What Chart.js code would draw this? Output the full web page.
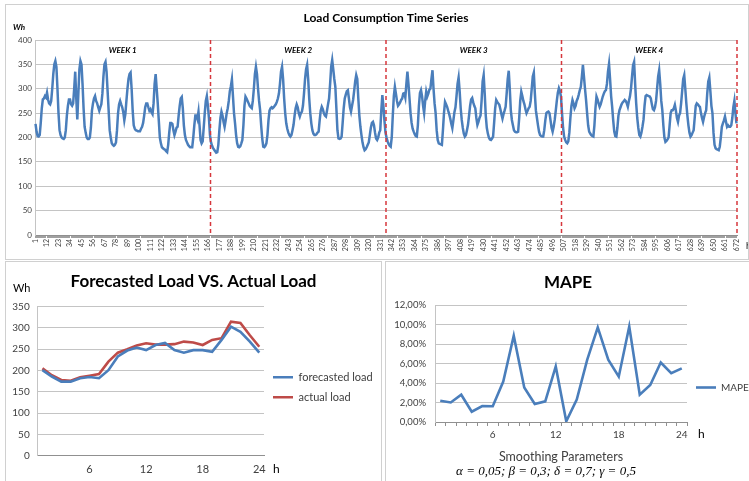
<!DOCTYPE html>
<html>
<head>
<meta charset="utf-8">
<script src="https://cdn.jsdelivr.net/npm/chart.js"></script>
<style>
body { margin: 0; background: #fff; width: 749px; height: 481px; overflow: hidden; position: relative; }
.panel { position: absolute; border: 1px solid #d0d0d0; box-sizing: border-box; }
.panel div { position: absolute; left: 0; top: 0; right: 0; bottom: 0; }
</style>
</head>
<body>
<div class="panel" style="left:5px;top:4px;width:744px;height:256px"><div><canvas id="load_series"></canvas></div></div>
<div class="panel" style="left:5px;top:261px;width:377px;height:222px"><div><canvas id="forecast_actual"></canvas></div></div>
<div class="panel" style="left:385px;top:261px;width:366px;height:222px"><div><canvas id="mape_chart"></canvas></div></div>
<script>
// hourly load, 4 weeks (Wh)
const week1 = [
    228,212,203,202,205,230,260,278,280,285,282,292,278,270,268,275,300,330,350,357,345,300,250,215,
    205,200,198,197,200,215,245,265,278,278,268,265,270,300,335,280,237,290,340,357,350,310,260,222,
    210,200,197,197,200,220,255,270,280,285,275,270,262,255,262,268,290,325,350,355,335,295,255,215,
    200,188,185,183,185,190,215,250,268,275,268,262,252,235,248,275,300,320,330,333,300,255,225,218,
    215,214,213,213,213,218,222,230,245,262,270,270,262,255,258,252,248,270,310,330,300,270,235,200,
    188,180,178,176,175,172,170,185,210,230,230,228,215,205,212,220,222,245,265,280,283,260,225,205,
    195,190,185,182,180,180,180,200,225,245,245,238,253,225,195,188,192,220,250,275,285,265,240,205
];
const week2 = [
    190,183,178,175,172,169,170,185,215,240,253,245,232,222,235,250,260,275,295,305,319,285,250,229,
    205,188,181,180,182,188,195,225,265,284,280,275,270,265,262,260,275,300,330,345,330,300,275,256,
    225,198,181,180,183,188,205,235,255,260,262,260,262,265,268,273,280,290,310,335,345,320,280,250,
    229,218,210,205,202,205,215,226,245,260,268,262,250,243,250,253,265,290,320,340,349,320,280,250,
    229,215,208,205,205,207,210,212,235,255,263,258,250,245,243,255,268,280,310,345,359,340,320,304,
    260,215,198,197,198,202,230,260,280,288,295,297,280,262,253,265,277,295,315,328,320,280,245,222,
    205,190,180,174,176,180,185,190,205,220,230,232,225,210,198,195,200,210,215,255,287,265,235,210
];
const week3 = [
    200,192,187,183,181,200,245,285,304,290,275,265,268,272,277,280,290,291,282,310,335,310,280,250,
    230,218,212,207,203,202,225,265,291,297,285,265,250,275,294,284,290,298,300,320,338,300,270,250,
    215,195,188,187,186,185,215,250,273,268,263,255,248,239,228,219,235,252,262,285,310,323,295,260,
    236,220,208,202,205,215,226,245,265,278,281,272,265,260,240,226,232,240,245,275,315,328,290,245,
    220,208,200,196,195,198,202,230,260,277,273,270,267,258,248,239,248,255,263,290,320,337,300,255,
    236,225,215,212,211,211,212,240,275,294,285,275,268,258,250,255,260,263,275,300,325,333,290,255,
    240,225,212,205,203,202,202,215,235,250,252,253,250,235,220,212,222,236,255,275,292,301,295,284
];
const week4 = [
    250,220,202,195,190,188,192,210,240,265,277,270,260,265,275,280,288,297,304,325,349,325,300,277,
    250,225,212,208,205,203,202,225,260,284,278,270,263,268,276,284,290,295,297,310,335,351,320,285,
    263,235,212,203,202,220,245,256,262,268,272,274,277,275,270,263,275,284,300,325,348,355,310,270,
    240,220,205,202,210,222,236,265,285,287,286,285,284,280,268,258,256,262,275,300,325,338,310,275,
    256,225,200,191,193,196,200,225,250,256,256,260,267,255,240,232,245,250,270,295,320,328,300,270,
    245,225,210,202,205,210,215,240,265,270,268,265,263,250,240,232,242,250,256,290,315,323,295,265,
    250,210,185,178,176,175,174,181,200,222,229,235,243,232,222,225,222,222,225,240,262,275,250,229
];
const loadSeries = [...week1, ...week2, ...week3, ...week4];
const hourLabels = loadSeries.map((v, i) => String(i + 1));
const weekEnds = [168, 336, 504, 672];
const weekNames = ['WEEK 1', 'WEEK 2', 'WEEK 3', 'WEEK 4'];

// one day, 24 hours
const dayHours = ['1','2','3','4','5','6','7','8','9','10','11','12','13','14','15','16','17','18','19','20','21','22','23','24'];
const forecastedLoad = [201,186,174,174,182,185,182,201,233,247,254,248,260,265,248,242,248,248,244,272,303,291,268,242];
const actualLoad = [205,189,178,176,184,188,192,221,242,250,259,264,261,261,262,268,266,260,272,276,315,312,283,256];
const mapeValues = [2.18,2.0,2.8,1.05,1.64,1.62,4.15,8.85,3.55,1.85,2.12,5.7,0.07,2.3,6.4,9.7,6.4,4.65,9.8,2.8,3.8,6.1,5.0,5.5];

Chart.defaults.font.family = 'Lato';
Chart.defaults.color = '#404040';
Chart.defaults.animation = false;

// extra labels: week markers, units, "h", formula
const chartNotes = {
    id: 'chartNotes',
    afterDatasetsDraw(chart, args, opts) {
        const {ctx, chartArea} = chart;
        const x = chart.scales.x;
        ctx.save();
        ctx.fillStyle = '#000';
        ctx.textBaseline = 'middle';
        if (opts.weekEnds) {
            let start = x.left;
            opts.weekEnds.forEach((end, i) => {
                const px = x.getPixelForValue(end - 0.5);
                ctx.strokeStyle = '#d6373c';
                ctx.lineWidth = 1.5;
                ctx.setLineDash([4, 3]);
                ctx.beginPath();
                ctx.moveTo(px, chartArea.top);
                ctx.lineTo(px, chartArea.bottom);
                ctx.stroke();
                ctx.font = 'italic bold 8px Lato';
                ctx.textAlign = 'center';
                ctx.fillText(opts.weekNames[i], (start + px) / 2, chartArea.top + 10);
                start = px;
            });
            ctx.setLineDash([]);
        }
        ctx.textAlign = 'left';
        if (opts.unit) {
            ctx.font = opts.unitFont;
            ctx.fillText(opts.unit, opts.unitX, opts.unitY);
        }
        if (opts.hourY) {
            ctx.font = opts.hourFont;
            ctx.fillText('h', x.right + opts.hourGap, opts.hourY);
        }
        if (opts.formula) {
            ctx.font = opts.formulaFont;
            ctx.textAlign = 'center';
            ctx.fillText(opts.formula, opts.formulaX, opts.formulaY);
        }
        ctx.restore();
    }
};

new Chart(document.getElementById('load_series'), {
    type: 'line',
    data: {
        labels: hourLabels,
        datasets: [{
            label: 'Load',
            data: loadSeries,
            borderColor: '#4a7ebb',
            borderWidth: 2.5,
            pointRadius: 0
        }]
    },
    options: {
        responsive: true,
        maintainAspectRatio: false,
        layout: { padding: { right: 11 } },
        plugins: {
            legend: { display: false },
            tooltip: { enabled: false },
            title: {
                display: true,
                text: 'Load Consumption Time Series',
                fullSize: false,
                color: '#000',
                font: { size: 12, weight: 'bold' },
                padding: { top: 6, bottom: 14.6 }
            },
            chartNotes: {
                weekEnds: weekEnds,
                weekNames: weekNames,
                unit: 'Wh', unitFont: 'italic bold 8px Lato', unitX: 7, unitY: 22,
                hourFont: '9px Lato', hourGap: 9, hourY: 241
            }
        },
        scales: {
            x: {
                offset: true,
                grid: { drawOnChartArea: false, tickLength: 3, color: '#a0a0a0' },
                border: { color: '#909090' },
                ticks: {
                    autoSkip: false, minRotation: 90, maxRotation: 90, padding: 1,
                    font: { size: 7 },
                    callback: (v, i) => i % 11 === 0 ? hourLabels[i] : ''
                },
                afterFit: s => { s.height = 24; }
            },
            y: {
                min: 0, max: 400,
                ticks: { stepSize: 50, font: { size: 8 }, padding: 3 },
                grid: { color: '#c4c4c4', drawTicks: false },
                border: { color: '#c4c4c4' },
                afterFit: s => { s.width = 29; }
            }
        }
    },
    plugins: [chartNotes]
});

new Chart(document.getElementById('forecast_actual'), {
    type: 'line',
    data: {
        labels: dayHours,
        datasets: [{
            label: 'forecasted load',
            data: forecastedLoad,
            borderColor: '#4a7ebb',
            borderWidth: 2.6,
            pointRadius: 0
        }, {
            label: 'actual load',
            data: actualLoad,
            borderColor: '#be4b48',
            borderWidth: 2.6,
            pointRadius: 0
        }]
    },
    options: {
        responsive: true,
        maintainAspectRatio: false,
        plugins: {
            tooltip: { enabled: false },
            title: {
                display: true,
                text: 'Forecasted Load VS. Actual Load',
                color: '#000',
                font: { size: 17, weight: 'bold' },
                padding: { top: 9, bottom: 15.3 }
            },
            legend: {
                position: 'right',
                fullSize: false,
                maxWidth: 117,
                title: { display: true, text: '', font: { size: 10 }, padding: 0 },
                labels: {
                    usePointStyle: true, pointStyle: 'line', pointStyleWidth: 20,
                    padding: 9, color: '#404040', font: { size: 11 }
                }
            },
            chartNotes: {
                unit: 'Wh', unitFont: '11px Lato', unitX: 7, unitY: 26,
                hourFont: '12px Lato', hourGap: 9, hourY: 207
            }
        },
        scales: {
            x: {
                offset: true,
                grid: { drawOnChartArea: false, drawTicks: false },
                border: { color: '#909090' },
                ticks: {
                    autoSkip: false, maxRotation: 0, padding: 7, font: { size: 11 },
                    callback: (v, i) => (i + 1) % 6 === 0 ? dayHours[i] : ''
                },
                afterFit: s => { s.height = 26.3; }
            },
            y: {
                min: 0, max: 350,
                ticks: { stepSize: 50, font: { size: 10 }, padding: 8 },
                grid: { color: '#c4c4c4', drawTicks: false },
                border: { color: '#c4c4c4' },
                afterFit: s => { s.width = 31.7; }
            }
        }
    },
    plugins: [chartNotes]
});

new Chart(document.getElementById('mape_chart'), {
    type: 'line',
    data: {
        labels: dayHours,
        datasets: [{
            label: 'MAPE',
            data: mapeValues,
            borderColor: '#4a7ebb',
            borderWidth: 2.6,
            pointRadius: 0
        }]
    },
    options: {
        responsive: true,
        maintainAspectRatio: false,
        layout: { padding: { bottom: 18 } },
        plugins: {
            tooltip: { enabled: false },
            title: {
                display: true,
                text: 'MAPE',
                color: '#000',
                font: { size: 17, weight: 'bold' },
                padding: { top: 10, bottom: 12.6 }
            },
            legend: {
                position: 'right',
                fullSize: false,
                maxWidth: 63,
                title: { display: true, text: '', font: { size: 10 }, padding: { top: 36 } },
                labels: {
                    usePointStyle: true, pointStyle: 'line', pointStyleWidth: 20,
                    padding: 9, color: '#404040', font: { size: 10 }
                }
            },
            chartNotes: {
                hourFont: '12px Lato', hourGap: 11, hourY: 172,
                formula: 'α = 0,05; β = 0,3; δ = 0,7; γ = 0,5',
                formulaFont: 'italic 13px "Liberation Serif"', formulaX: 160, formulaY: 210
            }
        },
        scales: {
            x: {
                offset: true,
                grid: { drawOnChartArea: false, offset: true, tickLength: 4, color: '#909090' },
                border: { color: '#909090' },
                ticks: {
                    autoSkip: false, maxRotation: 0, padding: 3, font: { size: 10 },
                    callback: (v, i) => (i + 1) % 6 === 0 ? dayHours[i] : ''
                },
                title: {
                    display: true, text: 'Smoothing Parameters', color: '#404040',
                    font: { size: 12.5 }, padding: { top: 8, bottom: 0 }
                },
                afterFit: s => { s.height = 42; }
            },
            y: {
                min: 0, max: 12,
                ticks: {
                    stepSize: 2, font: { size: 9.5 }, padding: 9,
                    callback: v => v.toFixed(2).replace('.', ',') + '%'
                },
                grid: { color: '#c4c4c4', drawTicks: false },
                border: { color: '#c4c4c4' },
                afterFit: s => { s.width = 49; }
            }
        }
    },
    plugins: [chartNotes]
});
</script>
</body>
</html>
